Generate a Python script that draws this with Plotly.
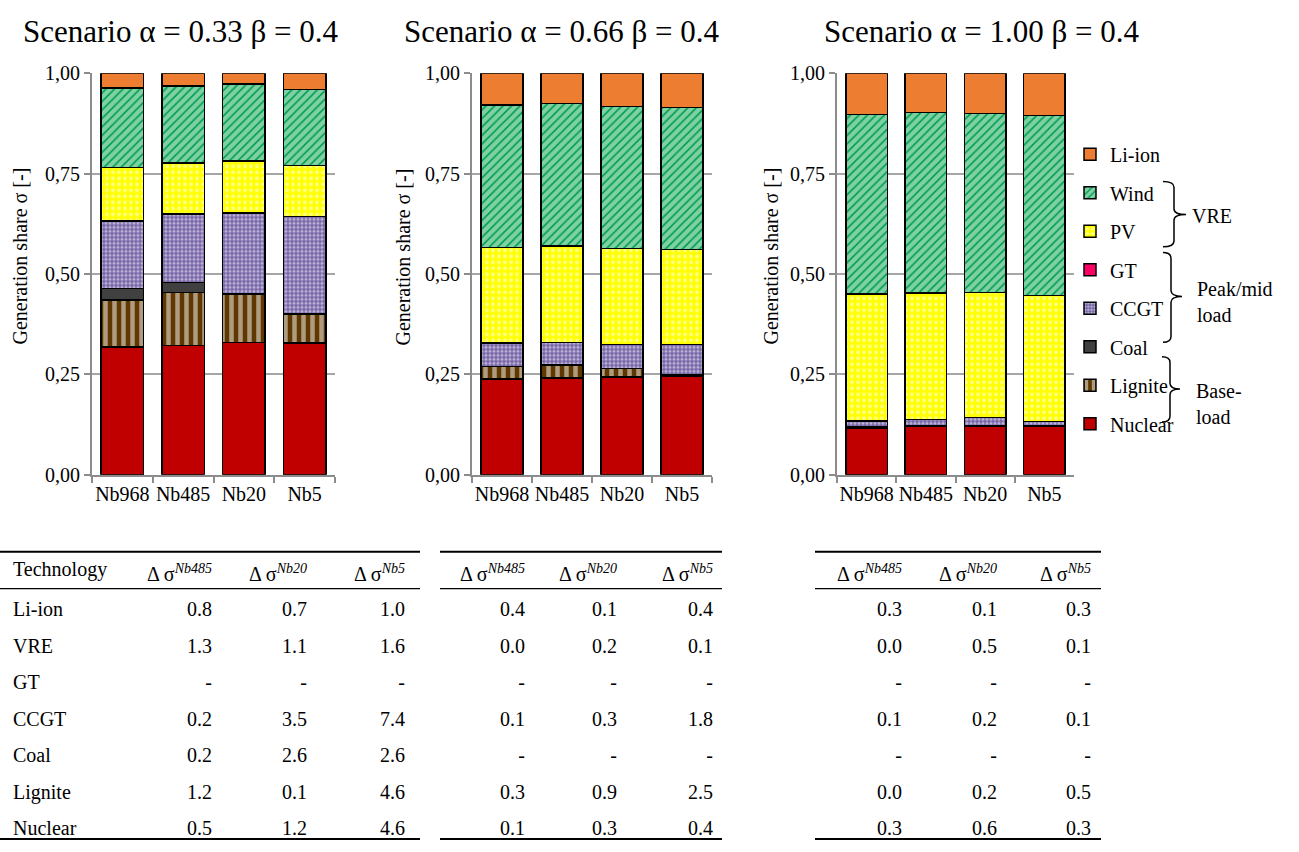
import plotly.graph_objects as go

W, H = 1299, 852
FONT = "Liberation Serif, Times New Roman, serif"

categories = ["Nb968", "Nb485", "Nb20", "Nb5"]
technologies = ["Nuclear", "Lignite", "Coal", "CCGT", "GT", "PV", "Wind", "Li-ion"]
legend_order = ["Li-ion", "Wind", "PV", "GT", "CCGT", "Coal", "Lignite", "Nuclear"]
scenario_titles = ["Scenario α = 0.33 β = 0.4", "Scenario α = 0.66 β = 0.4", "Scenario α = 1.00 β = 0.4"]
y_tick_vals = [0, 0.25, 0.5, 0.75, 1.0]
y_tick_text = ["0,00", "0,25", "0,50", "0,75", "1,00"]

# generation shares per scenario (segment heights)
s1_nuclear = [0.318, 0.322, 0.329, 0.328]
s1_lignite = [0.117, 0.132, 0.121, 0.073]
s1_coal = [0.029, 0.025, 0.0, 0.0]
s1_ccgt = [0.168, 0.170, 0.202, 0.242]
s1_gt = [0.0, 0.0, 0.0, 0.0]
s1_pv = [0.133, 0.128, 0.129, 0.128]
s1_wind = [0.199, 0.192, 0.192, 0.189]
s1_liion = [0.036, 0.031, 0.027, 0.040]

s2_nuclear = [0.239, 0.241, 0.243, 0.245]
s2_lignite = [0.030, 0.032, 0.021, 0.003]
s2_coal = [0.0, 0.0, 0.0, 0.0]
s2_ccgt = [0.059, 0.057, 0.060, 0.076]
s2_gt = [0.0, 0.0, 0.0, 0.0]
s2_pv = [0.238, 0.240, 0.239, 0.237]
s2_wind = [0.355, 0.355, 0.355, 0.354]
s2_liion = [0.079, 0.075, 0.082, 0.085]

s3_nuclear = [0.116, 0.120, 0.121, 0.120]
s3_lignite = [0.004, 0.001, 0.001, 0.001]
s3_coal = [0.0, 0.0, 0.0, 0.0]
s3_ccgt = [0.014, 0.017, 0.020, 0.012]
s3_gt = [0.0, 0.0, 0.0, 0.0]
s3_pv = [0.316, 0.315, 0.312, 0.314]
s3_wind = [0.448, 0.449, 0.446, 0.448]
s3_liion = [0.102, 0.098, 0.100, 0.105]

scenarios = [
    [s1_nuclear, s1_lignite, s1_coal, s1_ccgt, s1_gt, s1_pv, s1_wind, s1_liion],
    [s2_nuclear, s2_lignite, s2_coal, s2_ccgt, s2_gt, s2_pv, s2_wind, s2_liion],
    [s3_nuclear, s3_lignite, s3_coal, s3_ccgt, s3_gt, s3_pv, s3_wind, s3_liion],
]

# table data (delta sigma values)
table_tech = ["Li-ion", "VRE", "GT", "CCGT", "Coal", "Lignite", "Nuclear"]
t1_nb485 = [0.8, 1.3, None, 0.2, 0.2, 1.2, 0.5]
t1_nb20 = [0.7, 1.1, None, 3.5, 2.6, 0.1, 1.2]
t1_nb5 = [1.0, 1.6, None, 7.4, 2.6, 4.6, 4.6]
t2_nb485 = [0.4, 0.0, None, 0.1, None, 0.3, 0.1]
t2_nb20 = [0.1, 0.2, None, 0.3, None, 0.9, 0.3]
t2_nb5 = [0.4, 0.1, None, 1.8, None, 2.5, 0.4]
t3_nb485 = [0.3, 0.0, None, 0.1, None, 0.0, 0.3]
t3_nb20 = [0.1, 0.5, None, 0.2, None, 0.2, 0.6]
t3_nb5 = [0.3, 0.1, None, 0.1, None, 0.5, 0.3]
header_labels = ["Δ σ<sup><i>Nb485</i></sup>", "Δ σ<sup><i>Nb20</i></sup>", "Δ σ<sup><i>Nb5</i></sup>"]

styles = {
    "Nuclear": dict(color="#C00000"),
    "Lignite": dict(color="#5E3800", pattern=dict(shape="|", size=9, solidity=0.5, fgcolor="white", bgcolor="#5E3800")),
    "Coal": dict(color="#404040"),
    "CCGT": dict(color="#7462A6", pattern=dict(shape=".", size=4, solidity=0.5, fgcolor="white", bgcolor="#7462A6")),
    "GT": dict(color="#FF0066"),
    "PV": dict(color="#FFFF00", pattern=dict(shape=".", size=6, solidity=0.35, fgcolor="white", bgcolor="#FFFF00")),
    "Wind": dict(color="#00A04C", pattern=dict(shape="/", size=6, solidity=0.72, fgcolor="white", bgcolor="#00A04C")),
    "Li-ion": dict(color="#ED7D31"),
}


def px_x(p):
    return p / W


def px_y(p):
    return 1 - p / H


x_domains = [(92, 335), (472, 712), (837, 1074)]
y_domain = [px_y(476), px_y(64)]

fig = go.Figure()

for si, series in enumerate(scenarios):
    ax = "" if si == 0 else str(si + 1)
    for tech, vals in zip(technologies, series):
        st = styles[tech]
        marker = dict(color=st["color"], line=dict(color="black", width=1.5))
        if "pattern" in st:
            marker["pattern"] = st["pattern"]
        fig.add_trace(go.Bar(
            x=categories, y=vals, name=tech, legendgroup=tech,
            legendrank=legend_order.index(tech) + 1,
            showlegend=(si == 0), marker=marker,
            xaxis="x" + ax, yaxis="y" + ax,
        ))

axis_grey = "#8C8C8C"
layout = dict(
    width=W, height=H, margin=dict(l=0, r=0, t=0, b=0),
    paper_bgcolor="white", plot_bgcolor="white",
    barmode="stack", bargap=0.3,
    font=dict(family=FONT, size=20, color="black"),
    legend=dict(x=px_x(1070), y=px_y(127), xanchor="left", yanchor="top",
                traceorder="grouped", tracegroupgap=9.5,
                font=dict(family=FONT, size=20, color="black"),
                bgcolor="rgba(0,0,0,0)"),
)
for si, (x0, x1) in enumerate(x_domains):
    ax = "" if si == 0 else str(si + 1)
    layout["xaxis" + ax] = dict(
        domain=[px_x(x0), px_x(x1)], anchor="y" + ax, type="category",
        showline=True, linecolor=axis_grey, linewidth=2,
        ticks="outside", tickson="boundaries", ticklen=6, tickcolor=axis_grey, tickwidth=2,
        tickangle=0,
        tickfont=dict(family=FONT, size=20, color="black"), showgrid=False,
    )
    layout["yaxis" + ax] = dict(
        domain=y_domain, anchor="x" + ax, range=[0, 1],
        tickvals=y_tick_vals, ticktext=y_tick_text,
        showline=True, linecolor=axis_grey, linewidth=2,
        ticks="outside", ticklen=6, tickcolor=axis_grey, tickwidth=2,
        showgrid=True, gridcolor="#A6A6A6", gridwidth=1.5, zeroline=False,
        tickfont=dict(family=FONT, size=20, color="black"),
    )
fig.update_layout(**layout)

annotations = []
title_centers = [180, 561, 981]
for t, cx in zip(scenario_titles, title_centers):
    annotations.append(dict(text=t, x=px_x(cx), y=px_y(21), xref="paper", yref="paper",
                            showarrow=False, font=dict(family=FONT, size=31, color="black"),
                            xanchor="center", yanchor="middle"))
for cx in [20, 403, 771]:
    annotations.append(dict(text="Generation share σ [-]", x=px_x(cx), y=px_y(252), xref="paper", yref="paper",
                            showarrow=False, textangle=-90, font=dict(family=FONT, size=20, color="black"),
                            xanchor="center", yanchor="middle"))

# group labels next to legend
for txt, lx, ly in [("VRE", 1190, 210), ("Peak/mid<br>load", 1195, 299), ("Base-<br>load", 1194, 403)]:
    annotations.append(dict(text=txt, x=px_x(lx), y=px_y(ly), xref="paper", yref="paper",
                            showarrow=False, align="left", font=dict(family=FONT, size=20, color="black"),
                            xanchor="left", yanchor="middle"))


def brace(xl, xr, xt, yt, yb, ym, r=6):
    def P(x, y):
        return f"{px_x(x):.5f},{px_y(y):.5f}"
    return (f"M{P(xl, yt)} Q{P(xr, yt)} {P(xr, yt + r)} L{P(xr, ym - r)} "
            f"Q{P(xr, ym)} {P(xt, ym)} Q{P(xr, ym)} {P(xr, ym + r)} "
            f"L{P(xr, yb - r)} Q{P(xr, yb)} {P(xl, yb)}")


shapes = []
for b in [(1163, 1174, 1186, 175, 242, 209), (1163, 1171, 1182, 248, 340, 293), (1162, 1170, 1180, 355, 422, 388)]:
    shapes.append(dict(type="path", path=brace(*b), xref="paper", yref="paper",
                       line=dict(color="black", width=1.5)))

# table rules
for (x0, x1) in [(0, 420), (440, 722), (815, 1101)]:
    for yy, w in [(555, 2), (593, 1.2), (850, 2)]:
        shapes.append(dict(type="line", xref="paper", yref="paper",
                           x0=px_x(x0), x1=px_x(x1), y0=px_y(yy), y1=px_y(yy),
                           line=dict(color="black", width=w)))


def fmt(v):
    return "-" if v is None else f"{v:.1f}"


tables = [
    ((5, 413), [120, 95, 95, 98], ["Technology"] + header_labels,
     [table_tech, [fmt(v) for v in t1_nb485], [fmt(v) for v in t1_nb20], [fmt(v) for v in t1_nb5]],
     ["left", "right", "right", "right"]),
    ((441, 721), [92, 92, 96], header_labels,
     [[fmt(v) for v in t2_nb485], [fmt(v) for v in t2_nb20], [fmt(v) for v in t2_nb5]],
     ["right", "right", "right"]),
    ((815, 1099), [95, 95, 94], header_labels,
     [[fmt(v) for v in t3_nb485], [fmt(v) for v in t3_nb20], [fmt(v) for v in t3_nb5]],
     ["right", "right", "right"]),
]
for (x0, x1), cw, hdr, vals, al in tables:
    fig.add_trace(go.Table(
        domain=dict(x=[px_x(x0), px_x(x1)], y=[px_y(852), px_y(556)]),
        columnwidth=cw,
        header=dict(values=hdr, align=al, height=40, fill=dict(color="white"),
                    line=dict(color="rgba(0,0,0,0)", width=0),
                    font=dict(family=FONT, size=20, color="black")),
        cells=dict(values=vals, align=al, height=36.5, fill=dict(color="white"),
                   line=dict(color="rgba(0,0,0,0)", width=0),
                   font=dict(family=FONT, size=20, color="black")),
    ))

fig.update_layout(annotations=annotations, shapes=shapes)
fig.write_html("out.html")
